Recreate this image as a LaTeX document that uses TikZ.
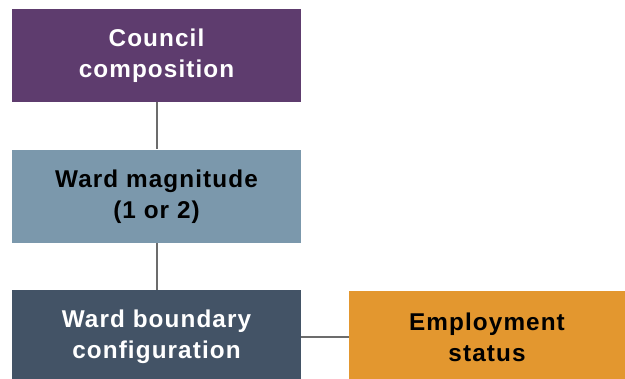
\documentclass[tikz,border=0pt]{standalone}
\usepackage{fontspec}
\setmainfont{Liberation Sans}[BoldFont={Liberation Sans Bold},LetterSpace=4.5]
\begin{document}
\begin{tikzpicture}[x=1pt,y=-1pt,
  box/.style={draw=none,minimum width=289pt,minimum height=93.5pt,align=center,
    font=\fontsize{24.3}{31}\selectfont\bfseries,inner sep=0pt},
  link/.style={draw=gray!85!black,line width=2pt}]
\useasboundingbox (0,0) rectangle (625,379);
\definecolor{cpurple}{HTML}{5E3C6E}
\definecolor{cblue}{HTML}{7B98AC}
\definecolor{cdark}{HTML}{435366}
\definecolor{corange}{HTML}{E3972F}
\node[box,fill=cpurple,text=white] (cc) at (156.5,55.5) {Council\\composition};
\node[box,fill=cblue,text=black] (wm) at (156.5,196.3) {Ward magnitude\\(1 or 2)};
\node[box,fill=cdark,text=white] (wb) at (156.5,337) {Ward boundary\\configuration};
\node[box,fill=corange,text=black,minimum width=276pt] (es) at (487,337.5) {Employment\\status};
\draw[link] (cc.south) -- (wm.north);
\draw[link] (wm.south) -- (wb.north);
\draw[link] (wb.east |- 0,337) -- (es.west |- 0,337);
\end{tikzpicture}
\end{document}
